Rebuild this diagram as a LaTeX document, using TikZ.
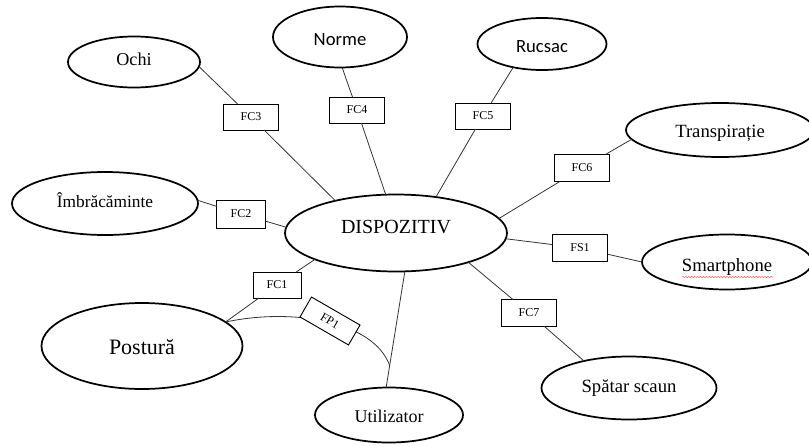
\documentclass[tikz,border=0pt]{standalone}
\usepackage{fontspec}
\setmainfont{Liberation Serif}
\newfontfamily\calib{Carlito}
\usetikzlibrary{shapes.geometric,decorations.pathmorphing,calc}
\newlength\px \setlength\px{0.75pt}
\newcommand\tx[2]{\raisebox{#1}[0pt][0pt]{#2}}
\begin{document}
\begin{tikzpicture}[x=0.75pt,y=-0.75pt,
  ell/.style={ellipse, draw, line width=1.3pt, inner sep=0pt, outer sep=0pt},
  fbox/.style={rectangle, draw, line width=0.7pt, fill=white, inner sep=0pt, outer sep=0pt,
    minimum width=55\px, minimum height=26\px, font=\fontsize{9}{10}\selectfont},
  conn/.style={line width=0.6pt, draw=black!80}]
\useasboundingbox (0,0) rectangle (809,446);

% ellipses
\node[ell, minimum width=222\px, minimum height=77\px, font=\fontsize{15}{17}\selectfont] (disp) at (396,233) {\tx{0pt}{DISPOZITIV}};
\node[ell, minimum width=132\px, minimum height=51\px, font=\fontsize{13.6}{15}\selectfont] (ochi) at (134,62) {\tx{-2.25pt}{Ochi}};
\node[ell, minimum width=134\px, minimum height=61\px, font=\calib\fontsize{14}{16}\selectfont] (norme) at (340,37) {\tx{-6pt}{Norme}};
\node[ell, minimum width=129\px, minimum height=52\px, font=\calib\fontsize{14}{16}\selectfont] (rucsac) at (542,44) {\tx{-6pt}{Rucsac}};
\node[ell, minimum width=188\px, minimum height=54\px, font=\fontsize{14}{16}\selectfont] (transp) at (720,130) {\tx{-5.25pt}{Transpirație}};
\node[ell, minimum width=186\px, minimum height=63\px, font=\fontsize{13}{15}\selectfont] (imbr) at (105,203.5) {\tx{-3pt}{Îmbrăcăminte}};
\node[ell, minimum width=170\px, minimum height=55\px, font=\fontsize{14}{16}\selectfont] (smart) at (727,262) {\tx{-7pt}{Smartphone}};
\node[ell, minimum width=175\px, minimum height=63\px, font=\fontsize{14}{16}\selectfont] (spatar) at (629,388) {\tx{-3pt}{Spătar scaun}};
\node[ell, minimum width=201\px, minimum height=86\px, font=\fontsize{16.5}{18}\selectfont] (postura) at (142,346) {\tx{-6.5pt}{Postură}};
\node[ell, minimum width=148\px, minimum height=55\px, font=\fontsize{13.5}{15}\selectfont] (util) at (389,415) {\tx{-5.25pt}{Utilizator}};

% spell-check underline
\draw[red!60, line width=0.4pt, decorate, decoration={snake, amplitude=0.5pt, segment length=2.2pt}]
  ($(smart.center)+(-45,15)$) -- ($(smart.center)+(46,15)$);

% boxes
\node[fbox] (fc3) at (251,117) {FC3};
\node[fbox] (fc4) at (357,110) {FC4};
\node[fbox] (fc5) at (483,116) {FC5};
\node[fbox, minimum height=27\px] (fc6) at (582,168) {FC6};
\node[fbox, minimum width=49\px, minimum height=28\px] (fc2) at (241,214) {FC2};
\node[fbox, minimum height=27\px] (fs1) at (580,248) {FS1};
\node[fbox, minimum height=27\px] (fc7) at (529,313) {FC7};
\node[fbox, minimum width=48\px] (fc1) at (277,285) {FC1};

% connectors
\draw[conn] (ochi.-4) -- (fc3) -- (disp.152);
\draw[conn] (norme.-86) -- (fc4) -- (disp.105);
\draw[conn] (rucsac.-141) -- (fc5) -- (disp.42);
\draw[conn] (transp.-174) -- (fc6) -- (disp.8);
\draw[conn] (imbr.2) -- (fc2) -- (disp.177);
\draw[conn] (disp.-3) -- (fs1) -- (smart.180);
\draw[conn] (disp.-22) -- (fc7) -- (spatar.149);
\draw[conn] (disp.-162) -- (fc1) -- (postura.16);
\draw[conn] (disp.-77) -- (util.96);
\coordinate (j) at ($(disp.-77)!0.81!(util.96)$);
\draw[conn] (postura.16) .. controls (290,308) and (373,320) .. (j);
\node[fbox, rotate=-30, minimum width=56\px, minimum height=23\px] (fp1) at (330,321) {FP1};
\end{tikzpicture}
\end{document}
